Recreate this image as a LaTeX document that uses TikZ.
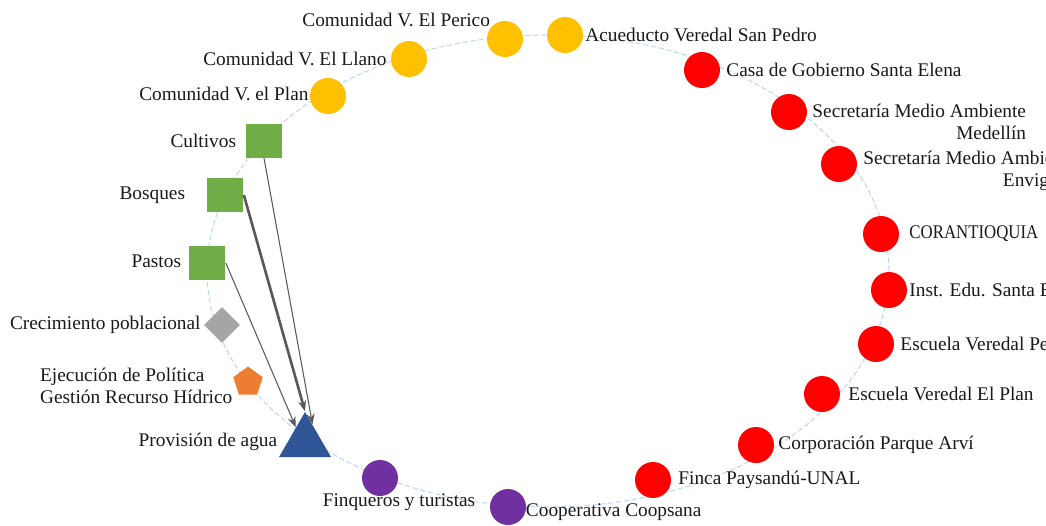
\documentclass[tikz,border=0pt]{standalone}
\usepackage{fontspec}
\setmainfont{Liberation Serif}
\usetikzlibrary{positioning,shapes.geometric,arrows.meta}

\definecolor{amarillo}{HTML}{FFC000}
\definecolor{rojo}{HTML}{FF0000}
\definecolor{verde}{HTML}{70AD47}
\definecolor{gris}{HTML}{A5A5A5}
\definecolor{naranja}{HTML}{ED7D31}
\definecolor{azul}{HTML}{2F5597}
\definecolor{morado}{HTML}{7030A0}
\definecolor{anillo}{HTML}{BDD7EE}
\definecolor{flecha}{HTML}{595959}

\begin{document}
\begin{tikzpicture}[x=0.02cm,y=-0.02cm,
  act/.style={circle,fill=#1,inner sep=0pt,minimum size=0.72cm},
  cob/.style={rectangle,fill=verde,inner sep=0pt,minimum width=0.74cm,minimum height=0.67cm},
  txt/.style={font=\fontsize{11}{12.5}\selectfont,inner sep=1pt,text=black!90},
  lnk/.style={draw=flecha,line width=#1,-{Stealth[length=6pt,width=4.5pt]}},lnk/.default=0.6pt]
\useasboundingbox (0,0) rectangle (1046,525);
\clip (0,0) rectangle (1046,525);
% anillo
\draw[anillo,line width=0.6pt,dash pattern=on 3pt off 1.5pt] (548,271) ellipse [x radius=6.82cm,y radius=4.72cm];
% comunidades
\node[act=amarillo] (per) at (505,39) {};
\node[act=amarillo] (acu) at (565,35) {};
\node[act=amarillo] (lla) at (409,59) {};
\node[act=amarillo] (pla) at (328,96) {};
\node[txt,anchor=south east,yshift=-0.05cm] (per-t) at (per.north west) {Comunidad V. El Perico};
\node[txt,right=0pt of acu] (acu-t) {Acueducto Veredal San Pedro};
\node[txt,left=0.04cm of lla] (lla-t) {Comunidad V. El Llano};
\node[txt,left=-0.02cm of pla,yshift=0.05cm] (pla-t) {Comunidad V. el Plan};
% coberturas y motores
\node[cob] (cul) at (264,141) {};
\node[cob] (bos) at (225,195) {};
\node[cob] (pas) at (207,263) {};
\node[diamond,fill=gris,inner sep=0pt,minimum size=0.72cm] (cre) at (222,325) {};
\node[regular polygon,regular polygon sides=5,fill=naranja,inner sep=0pt,minimum size=0.62cm] (eje) at (248,382) {};
\node[regular polygon,regular polygon sides=3,fill=azul,inner sep=0pt,minimum size=1.2cm] (pro) at (305,442) {};
\node[txt,left=0.14cm of cul] (cul-t) {Cultivos};
\node[txt,left=0.38cm of bos] (bos-t) {Bosques};
\node[txt,left=0.1cm of pas,yshift=0.04cm] (pas-t) {Pastos};
\node[txt,left=0.02cm of cre] (cre-t) {Crecimiento poblacional};
\node[txt,left=0pt of eje,align=left,yshift=-0.08cm] (eje-t) {Ejecución de Política\\Gestión Recurso Hídrico};
\node[txt,left=0.16cm of pro] (pro-t) {Provisión de agua};
% vinculos
\draw[lnk] (cul.south) -- (pro.67);
\draw[lnk=1.5pt] (bos.east) -- (pro.corner 1);
\draw[lnk] (pas.east) -- (pro.122);
% usuarios
\node[act=morado] (fin) at (380,478) {};
\node[act=morado] (coo) at (508,507) {};
\node[txt,below=-0.1cm of fin,xshift=0.38cm] (fin-t) {Finqueros y turistas};
\node[txt,right=-0.05cm of coo,yshift=-0.1cm] (coo-t) {Cooperativa Coopsana};
% instituciones
\foreach \n/\x/\y/\gap/\t in {cas/702/70/0.08cm/Casa de Gobierno Santa Elena,
  cor/881/234/0.16cm/\scalebox{0.87}[1]{CORANTIOQUIA},
  ins/889/290/0cm/Inst. Edu. Santa Elena,
  epe/876/344/0.08cm/Escuela Veredal Perico,
  epl/822/394/0.12cm/Escuela Veredal El Plan,
  arv/756/445/0.04cm/Corporación Parque Arví,
  pay/653/480/0.1cm/Finca Paysandú-UNAL} {
  \node[act=rojo] (\n) at (\x,\y) {};
  \node[txt,right=\gap of \n] (\n-t) {\t};
}
\node[act=rojo] (sme) at (789,112) {};
\node[act=rojo] (sen) at (839,164) {};
\node[txt,right=0.06cm of sme,align=right,yshift=-0.2cm] (sme-t) {Secretaría Medio Ambiente\\Medellín};
\node[txt,right=0.08cm of sen,align=right,yshift=-0.14cm] (sen-t) {Secretaría Medio Ambiente\\Envigado};
\end{tikzpicture}
\end{document}
